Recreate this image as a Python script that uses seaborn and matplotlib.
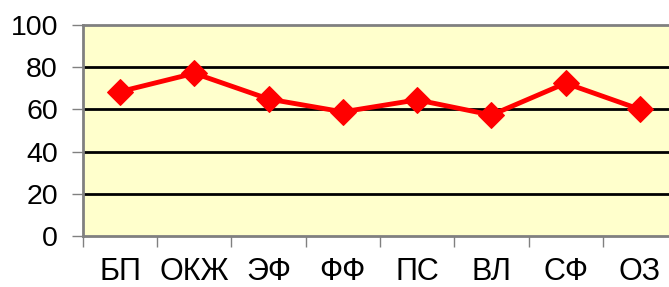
"""
Line chart: scores per group (БП ... ОЗ), Excel-style look.
"""
import matplotlib
matplotlib.use("Agg")
import matplotlib.pyplot as plt
import numpy as np
import pandas as pd
import seaborn as sns

# --- data ---
categories = ["БП", "ОКЖ", "ЭФ", "ФФ", "ПС", "ВЛ", "СФ", "ОЗ"]
values = [68.4, 77.1, 64.9, 58.8, 64.5, 57.3, 72.4, 60.0]
y_ticks = [0, 20, 40, 60, 80, 100]

sns.set_style("white")
plt.rcParams["font.family"] = ["Liberation Sans", "DejaVu Sans"]
plt.rcParams["text.color"] = "black"

df = pd.DataFrame({"pos": np.arange(len(categories)), "value": values})

fig = plt.figure(figsize=(6.69, 2.87), dpi=100)
ax = fig.add_axes([0.124, 0.178, 0.888, 0.735])
ax.set_facecolor("#FFFFCC")

sns.lineplot(data=df, x="pos", y="value", ax=ax, color="#FF0000",
             linewidth=3.5, marker="D", markersize=13, markeredgecolor="#FF0000")

ax.set_xlim(-0.5, len(categories) - 0.5)
ax.set_ylim(0, 100)
ax.set_yticks(y_ticks)
ax.set_yticklabels([str(t) for t in y_ticks], fontsize=20.5, color="black")

# labels centred on categories, tick marks between them
ax.set_xticks(np.arange(len(categories)))
ax.set_xticklabels(categories, fontsize=22, color="black")
ax.set_xticks(np.arange(len(categories) + 1) - 0.5, minor=True)
ax.tick_params(axis="x", which="major", length=0, pad=15.5)
ax.tick_params(axis="x", which="minor", length=8, width=1, color="#808080",
               direction="out", bottom=True)
ax.tick_params(axis="y", length=8, width=1, color="#808080", left=True,
               direction="out", pad=10)

for y in y_ticks[1:-1]:
    ax.axhline(y, color="black", linewidth=2, zorder=1)

for side in ["top", "left", "bottom"]:
    ax.spines[side].set_color("#808080")
    ax.spines[side].set_linewidth(2)
ax.spines["right"].set_visible(False)
ax.set_xlabel("")
ax.set_ylabel("")

fig.savefig("out.png", dpi=100)
